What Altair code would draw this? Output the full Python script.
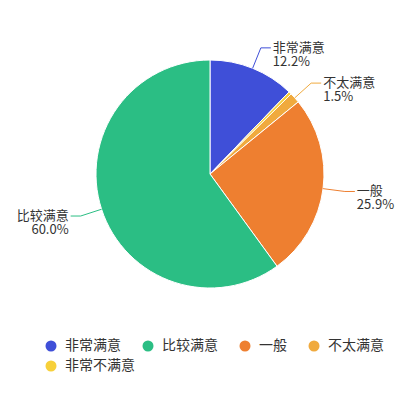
import altair as alt
import pandas as pd

# slice order around the pie (clockwise from 12 o'clock)
names = ["非常满意", "非常不满意", "不太满意", "一般", "比较满意"]
values = [12.2, 0.4, 1.5, 25.9, 60.0]

# legend order and colours
legend_order = ["非常满意", "比较满意", "一般", "不太满意", "非常不满意"]
legend_colors = ["#3F4FD8", "#2BBE84", "#EE7F30", "#F0AA3E", "#F7D03A"]

W, H = 390, 384
CX, CY = 202, 166
R = 114
L1, L2 = 22, 10

df = pd.DataFrame({"name": names, "value": values, "k": list(range(len(names)))})

cscale = alt.Scale(domain=legend_order, range=legend_colors)
legend_common = dict(
    title=None, orient="none", direction="horizontal",
    symbolType="circle", symbolSize=121, symbolStrokeWidth=0, symbolOpacity=1,
    labelFontSize=14, labelColor="#333", labelFont="Noto Sans CJK SC",
    labelOffset=7, legendX=36,
)

xs = alt.Scale(domain=[-CX, W - CX], nice=False, zero=False)
ys = alt.Scale(domain=[-CY, H - CY], nice=False, zero=False, reverse=True)
tscale = alt.Scale(domain=[0, 1], zero=True, nice=False)

base = alt.Chart(df)

geo = (
    base.transform_window(cum="sum(value)", sort=[alt.SortField("k")], frame=[None, 0])
    .transform_joinaggregate(total="sum(value)")
    .transform_calculate(f0="(datum.cum - datum.value) / datum.total")
    .transform_calculate(f1="datum.cum / datum.total")
    .transform_calculate(mid="(datum.cum - datum.value / 2) / datum.total * 2 * PI")
    .transform_calculate(s="sin(datum.mid)")
    .transform_calculate(c="cos(datum.mid)")
    .transform_calculate(side="datum.s >= 0 ? 1 : -1")
    .transform_calculate(x0=f"{R} * datum.s")
    .transform_calculate(y0=f"-{R} * datum.c")
    .transform_calculate(x1=f"{R + L1} * datum.s")
    .transform_calculate(y1=f"-{R + L1} * datum.c")
    .transform_calculate(x2=f"datum.x1 + datum.side * {L2}")
    .transform_calculate(tx=f"datum.x1 + datum.side * {L2 + 2}")
    .transform_calculate(label="datum.name + '\\n' + format(datum.value, '.1f') + '%'")
)

arc_style = dict(outerRadius=R, stroke="white", strokeWidth=1)

# main slices, legend row 1
arcs_a = geo.transform_filter(alt.FieldOneOfPredicate(field="name", oneOf=legend_order[:4])).mark_arc(**arc_style).encode(
    theta=alt.Theta("f0:Q", scale=tscale),
    theta2="f1:Q",
    color=alt.Color("name:N", scale=cscale,
                    legend=alt.Legend(values=legend_order[:4], legendY=331,
                                      columnPadding=20, **legend_common)),
    x=alt.value(CX),
    y=alt.value(CY),
)

# the tiny slice, legend row 2
arcs_b = geo.transform_filter(alt.FieldOneOfPredicate(field="name", oneOf=legend_order[4:])).mark_arc(**arc_style).encode(
    theta=alt.Theta("f0:Q", scale=tscale),
    theta2="f1:Q",
    fill=alt.Fill("name:N", scale=alt.Scale(domain=legend_order[4:], range=legend_colors[4:]),
                  legend=alt.Legend(legendY=351, **legend_common)),
    x=alt.value(CX),
    y=alt.value(CY),
)

labeled = geo.transform_filter("datum.value >= 1")

lines = (
    labeled.transform_calculate(px="[datum.x0, datum.x1, datum.x2]")
    .transform_calculate(py="[datum.y0, datum.y1, datum.y1]")
    .transform_calculate(pi="[0, 1, 2]")
    .transform_flatten(["px", "py", "pi"])
    .mark_line(strokeWidth=1)
    .encode(
        x=alt.X("px:Q", scale=xs, axis=None),
        y=alt.Y("py:Q", scale=ys, axis=None),
        detail="name:N",
        order=alt.Order("pi:Q"),
        stroke=alt.Stroke("name:N", scale=cscale, legend=None),
    )
)

text_style = dict(baseline="middle", fontSize=13, lineHeight=14, lineBreak="\n",
                  color="#333", font="Noto Sans CJK SC")

right_txt = labeled.transform_filter("datum.side > 0").mark_text(align="left", **text_style).encode(
    x=alt.X("tx:Q", scale=xs, axis=None),
    y=alt.Y("y1:Q", scale=ys, axis=None),
    text="label:N",
)
left_txt = labeled.transform_filter("datum.side < 0").mark_text(align="right", **text_style).encode(
    x=alt.X("tx:Q", scale=xs, axis=None),
    y=alt.Y("y1:Q", scale=ys, axis=None),
    text="label:N",
)

chart = (
    alt.layer(arcs_a, arcs_b, lines, right_txt, left_txt)
    .properties(width=W, height=H, autosize=alt.AutoSizeParams(type="none"), padding=0)
    .configure_view(stroke=None)
)

chart.save("out.html", embed_options={"renderer": "svg", "actions": False})
